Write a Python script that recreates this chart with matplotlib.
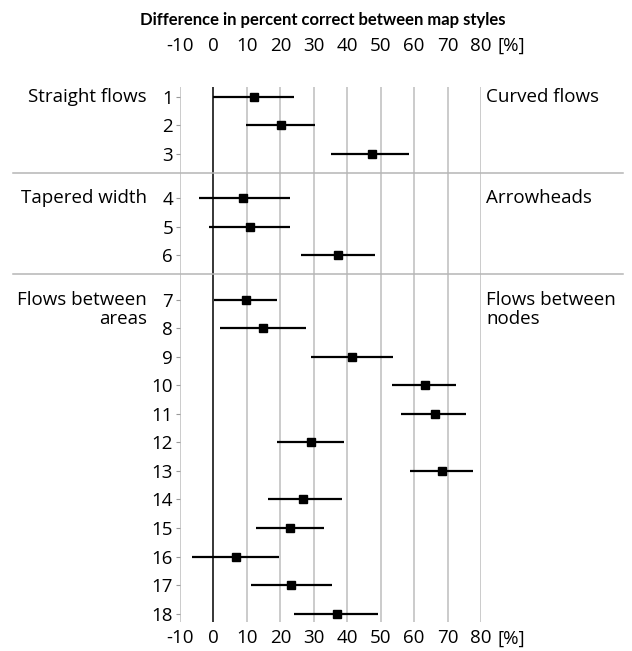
import numpy as np
import matplotlib
matplotlib.use("Agg")
import matplotlib.pyplot as plt
import matplotlib.transforms as mtransforms

plt.rcParams['font.family'] = ['Open Sans', 'DejaVu Sans']

# Data: mean difference and interval ends per question
questions = [str(i) for i in range(1, 19)]
means = [12.2, 20.1, 47.3, 8.7, 10.9, 37.3, 9.8, 14.8, 41.5, 63.2,
         66.3, 29.2, 68.2, 26.9, 22.8, 6.7, 23.1, 36.9]
lows = [0.0, 9.8, 35.1, -4.2, -1.2, 26.1, 0.2, 2.0, 29.2, 53.3,
        56.1, 19.1, 58.9, 16.2, 12.6, -6.4, 11.1, 24.1]
highs = [24.2, 30.4, 58.4, 22.8, 22.8, 48.4, 19.0, 27.7, 53.8, 72.4,
         75.5, 39.1, 77.5, 38.4, 33.1, 19.7, 35.4, 49.1]
groups = [0, 0, 0, 1, 1, 1, 2, 2, 2, 2, 2, 2, 2, 2, 2, 2, 2, 2]
left_labels = ["Straight flows", "Tapered width", "Flows between\nareas"]
right_labels = ["Curved flows", "Arrowheads", "Flows between\nnodes"]
xticks = [-10, 0, 10, 20, 30, 40, 50, 60, 70, 80]

fs = 13.5
gap = 0.55
ypos = np.arange(len(questions)) + gap * np.array(groups)

fig = plt.figure(figsize=(6.32, 6.51), dpi=100)
ax = fig.add_axes([0.2848, 0.0445, 0.4763, 0.8219])

for x in xticks:
    if x == 0:
        ax.axvline(x, color='black', lw=1.1, zorder=2)
    else:
        ax.axvline(x, color='#bdbdbd', lw=1.1, zorder=1)

means = np.array(means)
err = [means - np.array(lows), np.array(highs) - means]
ax.errorbar(means, ypos, xerr=err, fmt='s', color='black', ms=6,
            elinewidth=1.6, capsize=0, zorder=3)

ax.set_xlim(-10, 80)
ax.set_ylim(ypos[-1] + 0.29, ypos[0] - 0.34)
ax.set_yticks(ypos)
ax.set_yticklabels(questions)
ax.set_xticks(xticks)
ax.set_xticklabels([str(x) for x in xticks])
for s in ax.spines.values():
    s.set_visible(False)
ax.tick_params(axis='y', length=3, width=0.8, color='#999999', pad=2,
               labelsize=fs)
ax.tick_params(axis='x', length=0, pad=5, labelsize=fs)

top = ax.secondary_xaxis('top')
top.set_xticks(xticks)
top.set_xticklabels([str(x) for x in xticks])
top.tick_params(length=0, pad=23, labelsize=fs)
for s in top.spines.values():
    s.set_visible(False)

# "[%]" unit after the 80 labels, top and bottom
bt = mtransforms.blended_transform_factory(ax.transData, ax.transAxes)
ax.annotate("[%]", xy=(84.8, 1.0), xycoords=bt, xytext=(0, 30),
            textcoords='offset points', ha='left', va='center', fontsize=fs)
ax.annotate("[%]", xy=(84.8, 0.0), xycoords=bt, xytext=(0, -12),
            textcoords='offset points', ha='left', va='center', fontsize=fs)

# group separators and side labels
yt = mtransforms.blended_transform_factory(ax.transAxes, ax.transData)
for g in range(3):
    idx = [i for i, v in enumerate(groups) if v == g]
    first, last = ypos[idx[0]], ypos[idx[-1]]
    ly = first if g < 2 else first + 0.36
    ax.text(-0.11, ly, left_labels[g], transform=yt, ha='right', va='center',
            fontsize=fs, linespacing=1.05)
    ax.text(1.017, ly, right_labels[g], transform=yt, ha='left', va='center',
            fontsize=fs, linespacing=1.05)
    if g < 2:
        ax.plot([-0.555, 1.472], [last + 0.66, last + 0.66], transform=yt,
                color='#b5b5b5', lw=1.1, clip_on=False)

fig.text(0.51, 1 - 20 / 651, "Difference in percent correct between map styles",
         ha='center', va='center', fontsize=12, fontweight='bold',
         family=['Lato', 'DejaVu Sans'])

fig.savefig("out.png", dpi=100)
